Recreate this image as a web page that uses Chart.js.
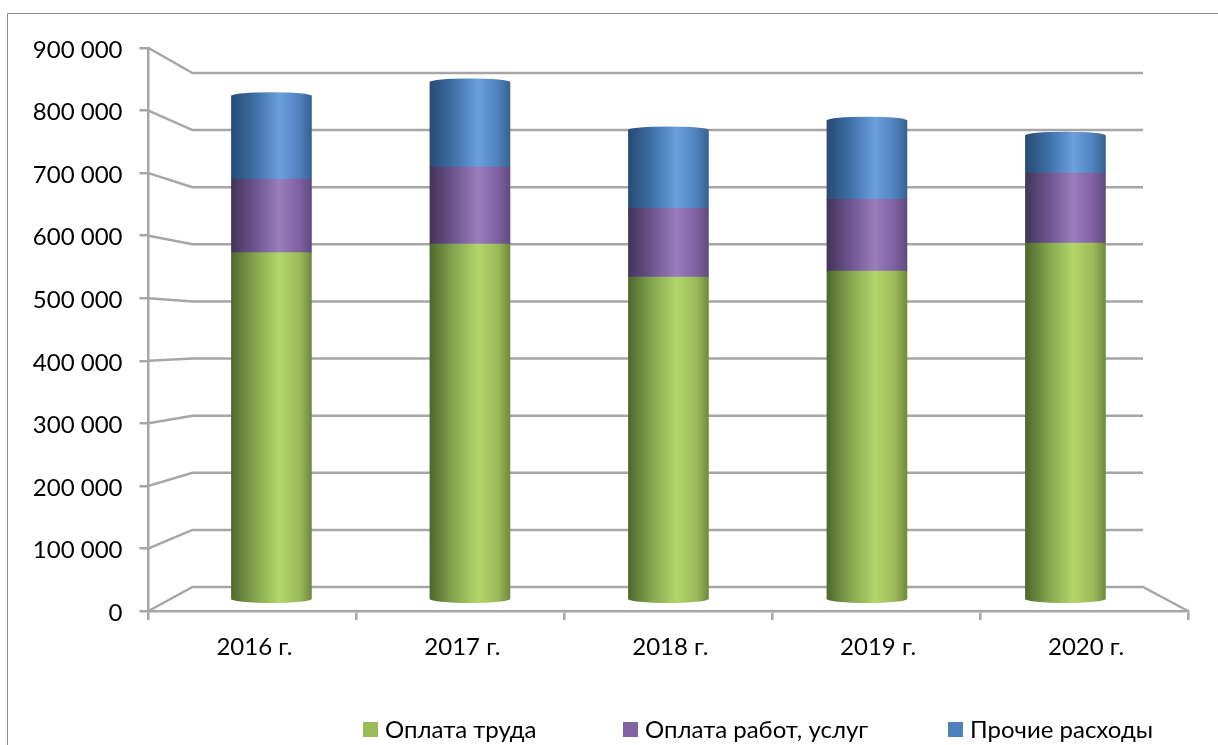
<!DOCTYPE html>
<html lang="ru">
<head>
<meta charset="utf-8">
<title>Расходы</title>
<script src="https://cdn.jsdelivr.net/npm/chart.js@4"></script>
<style>
    html, body { margin: 0; padding: 0; background: #fff; overflow: hidden; }
    #wrap { position: relative; width: 1218px; height: 745px; }
    #frame { position: absolute; left: 7px; top: 13px; right: 0; bottom: 0; border-left: 1.5px solid #8c8c8c; border-top: 1.5px solid #8c8c8c; }
    canvas { position: absolute; left: 0; top: 0; filter: blur(0.5px); }
</style>
</head>
<body>
<div id="wrap">
    <div id="frame"></div>
    <canvas id="grafico" width="1218" height="745"></canvas>
</div>
<script>
const years = ["2016 г.", "2017 г.", "2018 г.", "2019 г.", "2020 г."];
const oplataTruda = [579000, 593000, 538000, 548000, 595000];
const oplataRabot = [123000, 129000, 115000, 120000, 117000];
const prochie = [139000, 142000, 131000, 132000, 63000];
const seriesNames = ["Оплата труда", "Оплата работ, услуг", "Прочие расходы"];
const seriesColors = ["#9bbb59", "#8064a2", "#4f81bd"];
const legendX = [363, 623, 948];

const FONT = "Lato, 'Open Sans', sans-serif";
const GRID = "#a6a6a6";

// horizontal shading of the cylinders
const shades = [
    ["#4f682c", "#86a750", "#b2d66a", "#9bbb59", "#6f8a3d"],
    ["#43345a", "#6f5590", "#9a7dbc", "#7f60a2", "#5f4b7c"],
    ["#274b74", "#3f70a8", "#6ba0de", "#4f81bd", "#38618f"],
];
const shadeStops = [0, 0.3, 0.6, 0.85, 1];

function barFill(ctx) {
    const s = ctx.chart.scales.xBars;
    const c = s ? s.getPixelForValue(ctx.dataIndex) : NaN;
    if (!isFinite(c)) return seriesColors[ctx.datasetIndex];
    const g = ctx.chart.ctx.createLinearGradient(c - 40, 0, c + 40, 0);
    shades[ctx.datasetIndex].forEach((col, i) => g.addColorStop(shadeStops[i], col));
    return g;
}

function pts(values) {
    return values.map((v, i) => ({ x: i, y: v }));
}

// back wall of the 3d box and the diagonals from the front axis
const wallPlugin = {
    id: "wall",
    beforeDatasetsDraw(chart) {
        const c = chart.ctx, y = chart.scales.y, area = chart.chartArea;
        const backL = area.left + 44, backR = area.right - 45;
        c.save();
        c.strokeStyle = GRID;
        c.lineWidth = 2.5;
        y.ticks.forEach(t => {
            const fy = y.getPixelForValue(t.value);
            const by = 587 - (t.value / 900000) * 514;
            c.beginPath();
            c.moveTo(area.left, fy);
            c.lineTo(backL, by);
            c.lineTo(backR, by);
            if (t.value === 0) c.lineTo(area.right, fy);
            c.stroke();
        });
        c.restore();
    },
};

// elliptical ends of the cylinders
const capsPlugin = {
    id: "caps",
    afterDatasetsDraw(chart) {
        const c = chart.ctx;
        const last = chart.getDatasetMeta(2).data;
        const first = chart.getDatasetMeta(0).data;
        c.save();
        first.forEach(b => {
            c.fillStyle = b.options.backgroundColor;
            c.beginPath();
            c.ellipse(b.x, b.base, b.width / 2, 4, 0, 0, Math.PI * 2);
            c.fill();
        });
        last.forEach(b => {
            c.fillStyle = b.options.backgroundColor;
            c.beginPath();
            c.ellipse(b.x, b.y, b.width / 2, 3.5, 0, 0, Math.PI * 2);
            c.fill();
        });
        c.restore();
    },
};

// legend entries sit at uneven distances, so the built-in one does not fit
const legendPlugin = {
    id: "legendaBaja",
    afterDraw(chart) {
        const c = chart.ctx;
        c.save();
        c.font = "24px " + FONT;
        c.textBaseline = "middle";
        seriesNames.forEach((name, i) => {
            c.fillStyle = seriesColors[i];
            c.fillRect(legendX[i], 722, 15, 15);
            c.fillStyle = "#000";
            c.fillText(name, legendX[i] + 22, 730);
        });
        c.restore();
    },
};

new Chart(document.getElementById("grafico"), {
    type: "bar",
    data: {
        labels: years,
        datasets: [
            { label: seriesNames[0], data: pts(oplataTruda), backgroundColor: barFill },
            { label: seriesNames[1], data: pts(oplataRabot), backgroundColor: barFill },
            { label: seriesNames[2], data: pts(prochie), backgroundColor: barFill },
        ].map(d => Object.assign(d, { xAxisID: "xBars", yAxisID: "yBars", barThickness: 80, borderWidth: 0 })),
    },
    options: {
        responsive: false,
        animation: false,
        layout: { padding: { top: 48, right: 30, left: 0, bottom: 0 } },
        plugins: { legend: { display: false }, tooltip: { enabled: false } },
        scales: {
            x: {
                type: "category",
                labels: years,
                offset: true,
                afterFit: s => { s.height = 134; },
                grid: { drawOnChartArea: false, color: GRID, lineWidth: 2.5, tickLength: 9 },
                border: { color: GRID, width: 2.5 },
                ticks: { color: "#000", font: { family: FONT, size: 24 }, padding: 13, labelOffset: 2, maxRotation: 0 },
            },
            y: {
                min: 0,
                max: 900000,
                afterFit: s => { s.width = 148.5; },
                grid: { drawOnChartArea: false, color: GRID, lineWidth: 2.5, tickLength: 9 },
                border: { color: GRID, width: 2.5 },
                ticks: {
                    stepSize: 100000,
                    color: "#000",
                    padding: 17,
                    labelOffset: 2,
                    font: { family: FONT, size: 24 },
                    callback: v => String(v).replace(/\B(?=(\d{3})+$)/g, " "),
                },
            },
            // the cylinders stand on a plane between the front axis and the back wall
            xBars: { type: "linear", display: false, stacked: true, offset: false, min: -0.6193, max: 4.6174 },
            yBars: { display: false, stacked: true, min: -20060, max: 920900 },
        },
    },
    plugins: [wallPlugin, capsPlugin, legendPlugin],
});
</script>
</body>
</html>
